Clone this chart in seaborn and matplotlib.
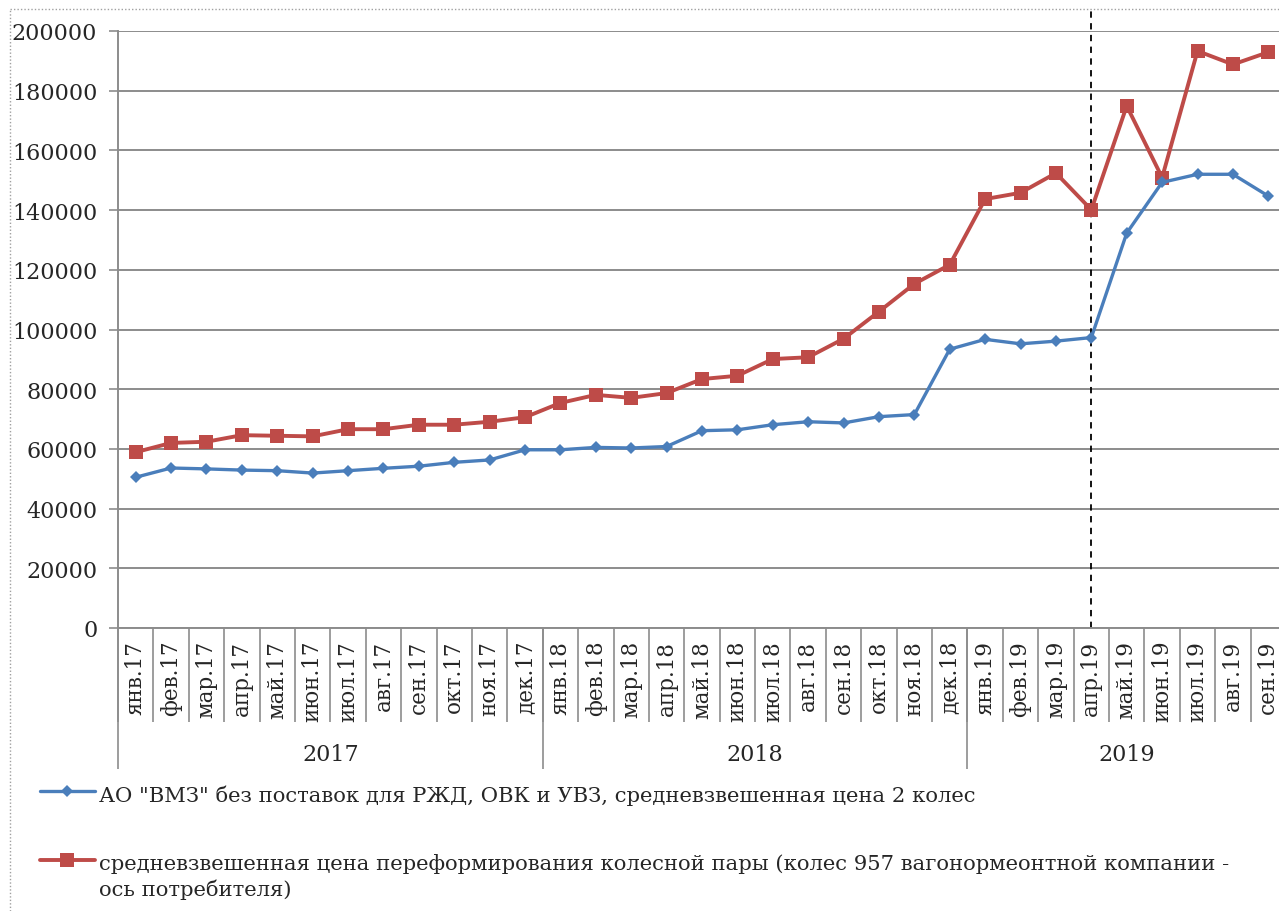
import numpy as np
import pandas as pd
import matplotlib
matplotlib.use("Agg")
import matplotlib.pyplot as plt
from matplotlib.lines import Line2D
import seaborn as sns

# ---------------- data ----------------
months = ['янв.17', 'фев.17', 'мар.17', 'апр.17', 'май.17', 'июн.17', 'июл.17', 'авг.17',
          'сен.17', 'окт.17', 'ноя.17', 'дек.17',
          'янв.18', 'фев.18', 'мар.18', 'апр.18', 'май.18', 'июн.18', 'июл.18', 'авг.18',
          'сен.18', 'окт.18', 'ноя.18', 'дек.18',
          'янв.19', 'фев.19', 'мар.19', 'апр.19', 'май.19', 'июн.19', 'июл.19', 'авг.19', 'сен.19']
years = ['2017', '2018', '2019']
year_sizes = [12, 12, 9]

vmz = [50500, 53600, 53300, 52900, 52700, 51900, 52700, 53500, 54200, 55500, 56300, 59700,
       59700, 60500, 60300, 60800, 66100, 66400, 68100, 69100, 68700, 70800, 71500, 93400,
       96700, 95200, 96100, 97300, 132300, 149300, 152000, 152000, 144700]
reform = [58900, 62000, 62400, 64600, 64400, 64200, 66600, 66600, 68100, 68100, 69100, 70600,
          75400, 78100, 77100, 78700, 83400, 84500, 90100, 90700, 96900, 106000, 115300, 121700,
          143700, 145800, 152400, 140100, 174900, 150900, 193300, 188800, 192900]

label_vmz = 'АО "ВМЗ" без поставок для РЖД, ОВК и УВЗ, средневзвешенная цена 2 колес'
label_ref = ('средневзвешенная цена переформирования колесной пары (колес 957 вагонормеонтной компании -\n'
             'ось потребителя)')
marker_month = 'апр.19'

yticks = list(range(0, 200001, 20000))

# ---------------- style ----------------
sns.set_theme(style="white")
plt.rcParams['font.family'] = ['DejaVu Serif']
BLUE = '#4a7ebb'
RED = '#be4b48'
GRID = '#8c8c8c'
TXT = '#262626'

W, H = 1279, 912
fig = plt.figure(figsize=(W / 100, H / 100), dpi=100)
fig.patch.set_facecolor('white')

left_px, right_px, top_px, bot_px = 118, 1286, 32, 629
ax = fig.add_axes([left_px / W, 1 - bot_px / H, (right_px - left_px) / W, (bot_px - top_px) / H])

x = np.arange(len(months))
df = pd.DataFrame({'x': x, 'vmz': vmz, 'reform': reform})

sns.lineplot(data=df, x='x', y='reform', ax=ax, color=RED, lw=2.8, marker='s',
             markersize=9.5, markeredgewidth=0, label=label_ref, zorder=3)
sns.lineplot(data=df, x='x', y='vmz', ax=ax, color=BLUE, lw=2.4, marker='D',
             markersize=6, markeredgewidth=0, label=label_vmz, zorder=4)

ax.set_xlim(-0.5, len(months) - 0.5)
ax.set_ylim(0, 200000)
ax.set_xlabel('')
ax.set_ylabel('')

# y axis
ax.set_yticks(yticks)
ax.set_yticklabels([str(v) for v in yticks])
ax.yaxis.grid(True, color=GRID, lw=1.4)
ax.xaxis.grid(False)
ax.tick_params(axis='y', which='major', direction='out', length=6.5, width=1.2, color=GRID,
               pad=8.4, labelsize=16, labelcolor=TXT, left=True)

# x axis: month labels + category separators
ax.set_xticks(x)
ax.set_xticklabels(months, rotation=90)
ax.set_xticks(np.arange(-0.5, len(months), 1.0), minor=True)
ax.tick_params(axis='x', which='major', length=0, pad=8.5, labelsize=15.5, labelcolor=TXT)
ax.tick_params(axis='x', which='minor', direction='out', length=67.5, width=1.2, color=GRID,
               bottom=True)

for s in ['top', 'right']:
    ax.spines[s].set_visible(False)
for s in ['left', 'bottom']:
    ax.spines[s].set_color(GRID)
    ax.spines[s].set_linewidth(1.4)

# year level of the category axis
sec = ax.secondary_xaxis('bottom')
bounds = np.concatenate([[-0.5], np.cumsum(year_sizes) - 0.5])
centers = [(bounds[i] + bounds[i + 1]) / 2 for i in range(len(years))]
sec.set_xticks(bounds)
sec.set_xticklabels([''] * len(bounds))
sec.set_xticks(centers, minor=True)
sec.set_xticklabels(years, minor=True)
sec.tick_params(axis='x', which='major', direction='out', length=101.5, width=1.2, color=GRID)
sec.tick_params(axis='x', which='minor', length=0, pad=83, labelsize=16, labelcolor=TXT)
sec.spines['bottom'].set_visible(False)

# dashed vertical marker line
xi = months.index(marker_month)
ax.axvline(xi, ymin=0, ymax=(bot_px - 10) / (bot_px - top_px), color='black', lw=1.3,
           ls=(0, (3.5, 3)), clip_on=False, zorder=2)

# legend
handles, labels = ax.get_legend_handles_labels()
ax.get_legend().remove()
order = [labels.index(label_vmz), labels.index(label_ref)]
leg = fig.legend([handles[i] for i in order], [labels[i] for i in order],
                 loc='upper left', bbox_to_anchor=(40 / W, 1 - 785 / H),
                 frameon=False, fontsize=15.2, handlelength=2.6, handletextpad=0.2,
                 labelspacing=2.3, borderpad=0, borderaxespad=0, labelcolor=TXT)
for t in leg.get_texts():
    t.set_linespacing(1.3)
# put each handle level with the first line of its label
for col in leg._legend_handle_box.get_children():
    for row in col.get_children():
        row.align = 'top'

# outer dotted chart border
fig.add_artist(Line2D([10 / W, 1], [1 - 10 / H, 1 - 10 / H], transform=fig.transFigure,
                      color='#a0a0a0', lw=1.0, ls=(0, (1, 1.5))))
fig.add_artist(Line2D([10 / W, 10 / W], [0, 1 - 10 / H], transform=fig.transFigure,
                      color='#a0a0a0', lw=1.0, ls=(0, (1, 1.5))))

fig.savefig('out.png', dpi=100)
